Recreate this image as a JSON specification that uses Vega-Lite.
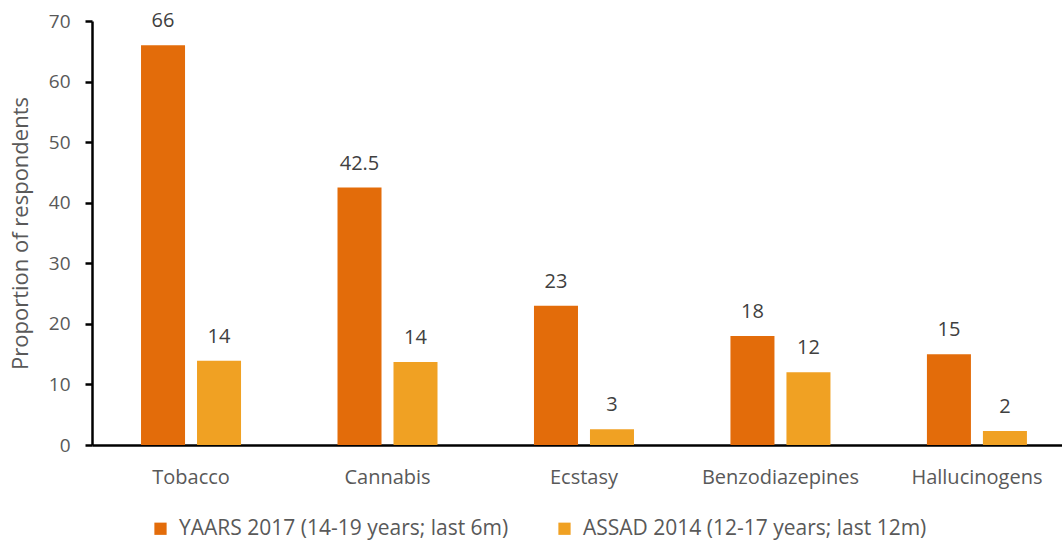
{
  "$schema": "https://vega.github.io/schema/vega-lite/v6.json",
  "width": 970,
  "height": 424,
  "autosize": "none",
  "padding": {"left": 92, "top": 21, "right": 0, "bottom": 97},
  "background": "white",
  "config": {
    "font": "Open Sans",
    "view": {"stroke": null},
    "axis": {"labelColor": "#595959", "titleColor": "#595959", "labelFont": "Open Sans", "titleFont": "Open Sans"},
    "legend": {"labelColor": "#595959", "labelFont": "Open Sans"}
  },
  "data": {
    "values": [
      {"drug": "Tobacco", "survey": "YAARS 2017 (14-19 years; last 6m)", "value": 66, "label": "66"},
      {"drug": "Tobacco", "survey": "ASSAD 2014 (12-17 years; last 12m)", "value": 13.9, "label": "14"},
      {"drug": "Cannabis", "survey": "YAARS 2017 (14-19 years; last 6m)", "value": 42.5, "label": "42.5"},
      {"drug": "Cannabis", "survey": "ASSAD 2014 (12-17 years; last 12m)", "value": 13.7, "label": "14"},
      {"drug": "Ecstasy", "survey": "YAARS 2017 (14-19 years; last 6m)", "value": 23, "label": "23"},
      {"drug": "Ecstasy", "survey": "ASSAD 2014 (12-17 years; last 12m)", "value": 2.6, "label": "3"},
      {"drug": "Benzodiazepines", "survey": "YAARS 2017 (14-19 years; last 6m)", "value": 18, "label": "18"},
      {"drug": "Benzodiazepines", "survey": "ASSAD 2014 (12-17 years; last 12m)", "value": 12, "label": "12"},
      {"drug": "Hallucinogens", "survey": "YAARS 2017 (14-19 years; last 6m)", "value": 15, "label": "15"},
      {"drug": "Hallucinogens", "survey": "ASSAD 2014 (12-17 years; last 12m)", "value": 2.3, "label": "2"}
    ]
  },
  "encoding": {
    "x": {
      "field": "drug", "type": "nominal", "sort": null,
      "scale": {"paddingInner": 0.491, "paddingOuter": 0.214, "align": 0.583},
      "axis": {"title": null, "labelAngle": 0, "labelFontSize": 20, "labelPadding": 22, "ticks": false, "domainColor": "#000000", "domainWidth": 2.5}
    },
    "xOffset": {
      "field": "survey", "type": "nominal",
      "scale": {"domain": ["YAARS 2017 (14-19 years; last 6m)", "ASSAD 2014 (12-17 years; last 12m)"], "paddingInner": 0.214, "paddingOuter": 0}
    },
    "y": {
      "field": "value", "type": "quantitative",
      "scale": {"domain": [0, 70], "nice": false},
      "axis": {"title": "Proportion of respondents", "titleFontSize": 22, "titleFontWeight": "normal", "titlePadding": 16, "labelFontSize": 19, "labelPadding": 15, "values": [0, 10, 20, 30, 40, 50, 60, 70], "labelOverlap": false, "ticks": true, "grid": false, "domainColor": "#000000", "domainWidth": 2.5, "tickColor": "#000000", "tickWidth": 2.5, "tickSize": 7}
    }
  },
  "layer": [
    {
      "mark": {"type": "bar"},
      "encoding": {
        "color": {
          "field": "survey", "type": "nominal",
          "scale": {"domain": ["YAARS 2017 (14-19 years; last 6m)", "ASSAD 2014 (12-17 years; last 12m)"], "range": ["#E36C0A", "#F0A123"]},
          "legend": {"title": null, "orient": "none", "legendX": 58, "legendY": 497, "direction": "horizontal", "symbolType": "square", "symbolSize": 150, "symbolStrokeWidth": 0, "labelFontSize": 21, "labelOffset": 8, "columnPadding": 45, "labelLimit": 500}
        }
      }
    },
    {
      "mark": {"type": "text", "baseline": "bottom", "dy": -14, "fontSize": 20, "color": "#404040"},
      "encoding": {"text": {"field": "label"}}
    }
  ]
}
